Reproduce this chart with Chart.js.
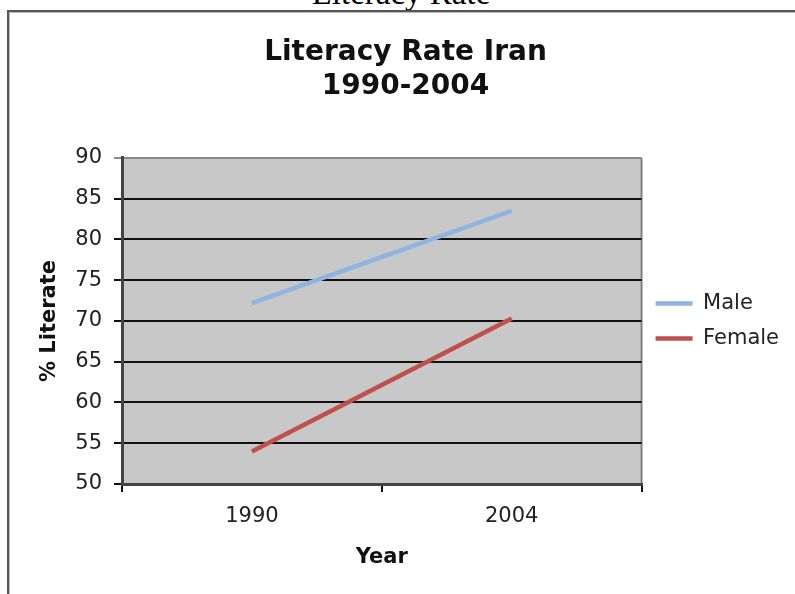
<!DOCTYPE html>
<html>
<head>
<meta charset="utf-8">
<script src="https://cdn.jsdelivr.net/npm/chart.js@4/dist/chart.umd.min.js"></script>
<style>
  body { margin: 0; width: 795px; height: 594px; overflow: hidden; background: #fff; position: relative; }
  #cap { position: absolute; left: 0; width: 802px; top: -23px; text-align: center;
         font: 33px/33px "Liberation Serif", "Times New Roman", serif; color: #000; }
  #frame { position: absolute; left: 7px; top: 10px; width: 820px; height: 620px;
           border-left: 2px solid #555; border-top: 2px solid #555; box-shadow: inset 1px 1px 0 #bbb; }
  #c { position: absolute; left: 0; top: 0; }
</style>
</head>
<body>
<div id="cap">Literacy Rate</div>
<div id="frame"></div>
<canvas id="c" width="795" height="594"></canvas>
<script>
// datos del grafico
const years = ['1990', '2004'];
const male = [72.2, 83.5];
const female = [54.0, 70.3];
const yMin = 50, yMax = 90, yStep = 5;

const font = 'DejaVu Sans, Verdana, sans-serif';
const padL = 22;

// fondo gris del area de trazado
const plotBg = {
  id: 'plotBg',
  beforeDraw(chart) {
    const a = chart.chartArea, ctx = chart.ctx;
    ctx.save();
    ctx.fillStyle = '#c8c8c8';
    ctx.fillRect(a.left, a.top, a.right - a.left, a.bottom - a.top);
    ctx.strokeStyle = '#808080';
    ctx.lineWidth = 2;
    ctx.beginPath();
    ctx.moveTo(a.right, a.top);
    ctx.lineTo(a.right, a.bottom);
    ctx.stroke();
    ctx.restore();
  }
};

new Chart(document.getElementById('c').getContext('2d'), {
  type: 'line',
  data: {
    labels: years,
    datasets: [{
      label: 'Male',
      data: male,
      borderColor: '#8fb4e0',
      backgroundColor: '#8fb4e0',
      borderWidth: 4.5,
      pointRadius: 0,
      tension: 0
    }, {
      label: 'Female',
      data: female,
      borderColor: '#c0504d',
      backgroundColor: '#c0504d',
      borderWidth: 4.5,
      pointRadius: 0,
      tension: 0
    }]
  },
  options: {
    responsive: false,
    animation: false,
    layout: { padding: { left: padL, right: 6, top: 0, bottom: 0 } },
    plugins: {
      title: {
        display: true,
        text: ['Literacy Rate Iran', '1990-2004'],
        color: '#111',
        font: { family: font, size: 28, weight: 'bold', lineHeight: 1.21 },
        padding: { top: 35.5, bottom: 54.7 }
      },
      legend: {
        position: 'right',
        fullSize: false,
        labels: {
          usePointStyle: true,
          pointStyle: 'line',
          pointStyleWidth: 37,
          boxWidth: 37,
          padding: 14,
          color: '#222',
          font: { family: font, size: 21 }
        }
      },
      tooltip: { enabled: false }
    },
    scales: {
      x: {
        offset: true,
        grid: { offset: true, drawOnChartArea: false, drawTicks: true, tickLength: 8, color: '#111', lineWidth: 2 },
        border: { color: '#444', width: 3 },
        ticks: { color: '#222', padding: 12, font: { family: font, size: 21 } },
        title: { display: true, text: 'Year', color: '#111', font: { family: font, size: 21, weight: 'bold' }, padding: { top: 0, bottom: 24 } },
        afterFit(scale) { scale.height = 110; }
      },
      y: {
        min: yMin,
        max: yMax,
        ticks: { stepSize: yStep, color: '#222', padding: 12, font: { family: font, size: 21 } },
        grid: {
          tickLength: 8,
          lineWidth: 2,
          color: (c) => (c.tick && c.tick.value === yMax) ? '#8a8a8a' : '#111'
        },
        border: { color: '#444', width: 3 },
        title: { display: true, text: '% Literate', color: '#111', font: { family: font, size: 21, weight: 'bold' }, padding: { top: 15, bottom: 0 } },
        afterFit(scale) { scale.width = 122 - padL; }
      }
    }
  },
  plugins: [plotBg]
});
</script>
</body>
</html>
